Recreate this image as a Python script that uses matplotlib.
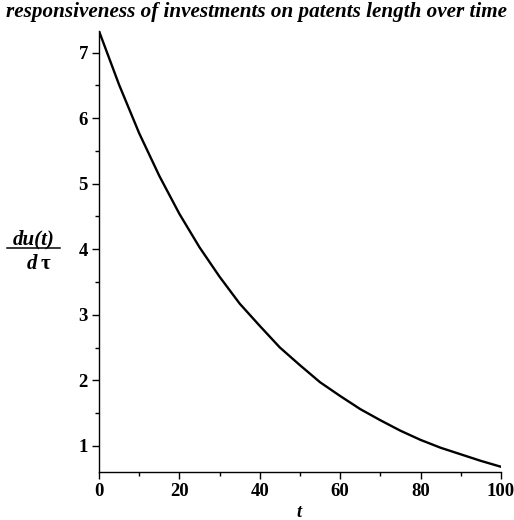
import matplotlib
matplotlib.use("Agg")
import matplotlib.pyplot as plt
from matplotlib.lines import Line2D
from matplotlib.ticker import MultipleLocator

# time axis and responsiveness du(t)/dtau
t = [0, 5, 10, 15, 20, 25, 30, 35, 40, 45, 50,
     55, 60, 65, 70, 75, 80, 85, 90, 95, 100]
dudtau = [7.33, 6.51, 5.77, 5.12, 4.54, 4.03, 3.58, 3.17, 2.83, 2.50, 2.23,
          1.97, 1.76, 1.56, 1.39, 1.23, 1.09, 0.97, 0.87, 0.77, 0.68]

xticks = [0, 20, 40, 60, 80, 100]
yticks = [1, 2, 3, 4, 5, 6, 7]
title = "responsiveness of investments on patents length over time"

serif = "Liberation Serif"

fig = plt.figure(figsize=(5.14, 5.20), dpi=100)
ax = fig.add_axes([0.1926, 0.0923, 0.782, 0.848])
ax.plot(t, dudtau, color="black", lw=1.7)

ax.set_xlim(0, 100)
ax.set_ylim(0.60, 7.33)
ax.set_xticks(xticks)
ax.set_yticks(yticks)
ax.xaxis.set_minor_locator(MultipleLocator(10))
ax.yaxis.set_minor_locator(MultipleLocator(0.5))
for s in ("top", "right"):
    ax.spines[s].set_visible(False)
for s in ("left", "bottom"):
    ax.spines[s].set_linewidth(1.0)
ax.tick_params(which="major", direction="out", length=5, width=1.0, pad=3)
ax.tick_params(which="minor", direction="out", length=3, width=1.0)
for lab in ax.get_xticklabels() + ax.get_yticklabels():
    lab.set_fontfamily(serif)
    lab.set_fontweight("bold")
    lab.set_fontsize(13.5)

fig.text(0.5, 0.976, title, ha="center", va="center", family=serif,
         fontweight="bold", fontstyle="italic", fontsize=15.2)

fig.text(0.582, 0.014, "t", ha="center", va="center", family=serif,
         fontweight="bold", fontstyle="italic", fontsize=13)

# y label drawn as a stacked fraction
fig.text(0.066, 0.539, "du(t)", ha="center", va="center", family=serif,
         fontweight="bold", fontstyle="italic", fontsize=15)
fig.text(0.072, 0.493, "d", ha="right", va="center", family=serif,
         fontweight="bold", fontstyle="italic", fontsize=15)
fig.text(0.078, 0.493, "τ", ha="left", va="center", family=serif,
         fontweight="bold", fontsize=15)
fig.add_artist(Line2D([0.014, 0.117], [0.523, 0.523], color="black", lw=1.1,
                      transform=fig.transFigure))

fig.savefig("out.png", dpi=100)
